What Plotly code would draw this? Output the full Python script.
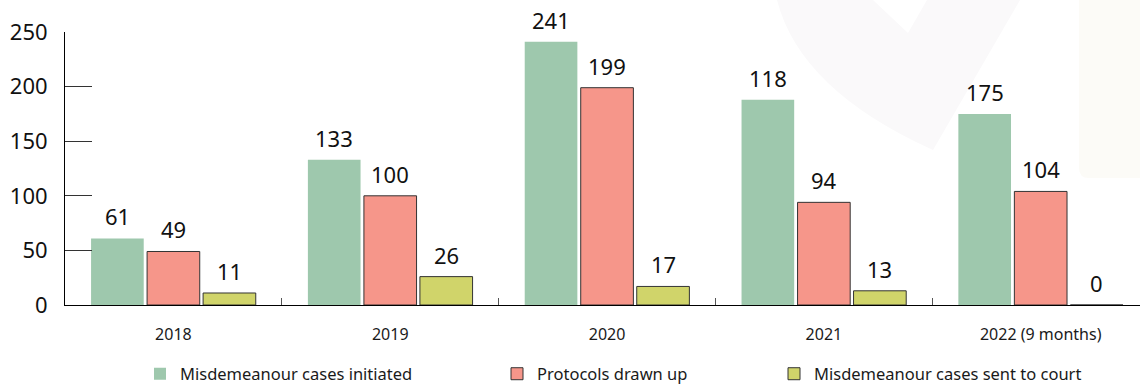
import plotly.graph_objects as go

years = ["2018", "2019", "2020", "2021", "2022 (9 months)"]

initiated = [61, 133, 241, 188, 175]
initiated_labels = ["61", "133", "241", "118", "175"]

protocols = [49, 100, 199, 94, 104]
protocols_labels = ["49", "100", "199", "94", "104"]

sent_court = [11, 26, 17, 13, 0]
sent_court_labels = ["11", "26", "17", "13", "0"]

series_names = ["Misdemeanour cases initiated", "Protocols drawn up",
                "Misdemeanour cases sent to court"]
y_ticks = [0, 50, 100, 150, 200, 250]

C_GREEN = "rgb(158,200,173)"
C_RED = "rgb(246,150,138)"
C_YELLOW = "rgb(208,212,106)"
OUTLINE = "rgb(51,51,51)"
FONT = "Noto Sans"
BARGAP = 0.225

fig = go.Figure()

specs = [
    (initiated, initiated_labels, series_names[0], C_GREEN, 0, "legend"),
    (protocols, protocols_labels, series_names[1], C_RED, 1, "legend2"),
    (sent_court, sent_court_labels, series_names[2], C_YELLOW, 1, "legend3"),
]
slot = (1 - BARGAP) / len(specs)
for k, (vals, labels, name, color, lw, lg) in enumerate(specs):
    fig.add_trace(go.Bar(
        x=years, y=vals, name=name,
        marker=dict(color=color, line=dict(color=OUTLINE, width=lw)),
        legend=lg, hoverinfo="skip",
    ))
    off = (k - (len(specs) - 1) / 2) * slot
    for i, (v, t) in enumerate(zip(vals, labels)):
        fig.add_annotation(
            x=i + off, y=v, xref="x", yref="y", text=t, showarrow=False,
            xanchor="center", yanchor="bottom", yshift=5,
            font=dict(family=FONT, size=22, color="#111"),
        )

W, H = 1140, 385
ML, MR, MT, MB = 65, 0, 32, 80

# faint background logo shapes (decorative)
def px_x(p):
    return (p - ML) / (W - ML - MR)

def px_y(p):
    return (H - MB - p) / (H - MB - MT)

v_path = (f"M {px_x(777)},{px_y(0)} "
          f"Q {px_x(800)},{px_y(90)} {px_x(933)},{px_y(150)} "
          f"L {px_x(1020)},{px_y(0)} L {px_x(927)},{px_y(0)} "
          f"L {px_x(908)},{px_y(33)} L {px_x(873)},{px_y(0)} Z")
fig.add_shape(type="path", path=v_path, xref="paper", yref="paper",
              fillcolor="rgb(250,249,250)", line=dict(width=0), layer="below")
rect_path = (f"M {px_x(1079)},{px_y(0)} L {px_x(1079)},{px_y(168)} "
             f"Q {px_x(1079)},{px_y(178)} {px_x(1089)},{px_y(178)} "
             f"L {px_x(1145)},{px_y(178)} L {px_x(1145)},{px_y(0)} Z")
fig.add_shape(type="path", path=rect_path, xref="paper", yref="paper",
              fillcolor="rgb(252,251,247)", line=dict(width=0), layer="below")

leg_common = dict(orientation="h", xref="container", yref="container",
                  xanchor="left", yanchor="middle", y=1 - 374 / H,
                  bgcolor="rgba(0,0,0,0)", borderwidth=0,
                  font=dict(family=FONT, size=16.5, color="#1a1a1a"))

fig.update_layout(
    width=W, height=H,
    margin=dict(l=ML, r=MR, t=MT, b=MB, pad=0),
    paper_bgcolor="white", plot_bgcolor="rgba(0,0,0,0)",
    barmode="group", bargap=BARGAP, bargroupgap=0.06,
    font=dict(family=FONT, color="#1a1a1a"),
    showlegend=True,
    legend=dict(leg_common, x=140 / W),
    legend2=dict(leg_common, x=497 / W),
    legend3=dict(leg_common, x=774 / W),
    xaxis=dict(
        range=[-0.5, 4.458], showline=True, linecolor="black", linewidth=1,
        ticks="inside", tickson="boundaries", ticklen=7, tickcolor="#555",
        showgrid=False, zeroline=False, ticklabelstandoff=15,
        tickfont=dict(family=FONT, size=16, color="#1a1a1a"),
    ),
    yaxis=dict(
        range=[0, 250], tickvals=y_ticks, showline=True, linecolor="black",
        linewidth=1, ticks="inside", ticklen=27, tickcolor="#333",
        showgrid=False, zeroline=False, ticklabelstandoff=12,
        tickfont=dict(family=FONT, size=22, color="#111"),
    ),
)

fig.write_html("out.html")
